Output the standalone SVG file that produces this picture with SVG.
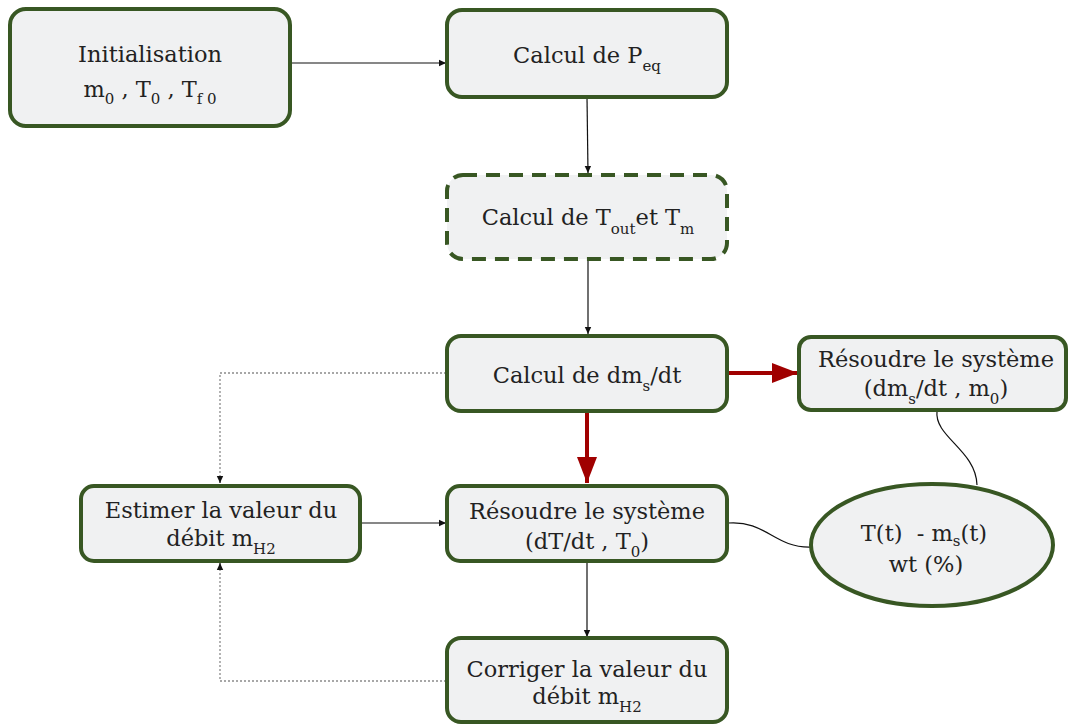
<svg xmlns="http://www.w3.org/2000/svg" width="1073" height="726" viewBox="0 0 1073 726">
  <style>
    .box { fill: #f0f1f2; stroke: #385723; stroke-width: 4; }
    .dash { stroke-dasharray: 14 9; }
    .t { font-family: "DejaVu Serif", "Liberation Serif", serif; font-size: 22.5px; fill: #222; text-anchor: middle; }
    .sub { font-size: 15px; }
    .link { fill: none; stroke: #111; stroke-width: 1.2; }
    .dot { fill: none; stroke: #8a8a8a; stroke-width: 1.3; stroke-dasharray: 2 2; }
    .red { fill: none; stroke: #a00000; stroke-width: 4; }
  </style>
  <defs>
    <marker id="arrow" markerUnits="userSpaceOnUse" markerWidth="8" markerHeight="8" refX="7" refY="4" orient="auto">
      <path d="M0,0.8 L7,4 L0,7.2 Z" fill="#111"/>
    </marker>
    <marker id="redArrow" markerUnits="userSpaceOnUse" markerWidth="28" markerHeight="22" refX="26" refY="11" orient="auto">
      <path d="M0,1 L26,11 L0,21 Z" fill="#a00000"/>
    </marker>
  </defs>
  <rect width="1073" height="726" fill="#ffffff"/>

  <!-- connectors -->
  <g id="connectors">
    <path class="link" d="M290,63 L446,63" marker-end="url(#arrow)"/>
    <path class="link" d="M587,97 L588,173" marker-end="url(#arrow)"/>
    <path class="link" d="M588,259 L588,334" marker-end="url(#arrow)"/>
    <path class="red" d="M587,411 L587,483" marker-end="url(#redArrow)"/>
    <path class="red" d="M728,373 L798,373" marker-end="url(#redArrow)"/>
    <path class="link" d="M360,523 L446,523" marker-end="url(#arrow)"/>
    <path class="link" d="M587,562 L587,637" marker-end="url(#arrow)"/>
    <path class="dot" d="M446,373 H220 V483"/>
    <path class="link" d="M220,476 L220,483" marker-end="url(#arrow)"/>
    <path class="dot" d="M446,681 H220 V563"/>
    <path class="link" d="M220,570 L220,563" marker-end="url(#arrow)"/>
    <path class="link" d="M728,523 C766,520 774,548 811,547"/>
    <path class="link" d="M937,411 C934,437 976,450 977,485"/>
  </g>

  <!-- Initialisation -->
  <g id="init">
    <rect class="box" x="10" y="9" width="280" height="117" rx="16"/>
    <text class="t" x="150" y="62">Initialisation</text>
    <text class="t" x="150" y="97">m<tspan class="sub" dy="7">0</tspan><tspan dy="-7"> , T</tspan><tspan class="sub" dy="7">0</tspan><tspan dy="-7"> , T</tspan><tspan class="sub" dy="7">f 0</tspan></text>
  </g>

  <!-- Calcul de Peq -->
  <g id="peq">
    <rect class="box" x="447" y="10" width="280" height="87" rx="15"/>
    <text class="t" x="587" y="63">Calcul de P<tspan class="sub" dy="8">eq</tspan></text>
  </g>

  <!-- Calcul de Tout et Tm -->
  <g id="tout">
    <rect class="box dash" x="447" y="175" width="280" height="84" rx="16"/>
    <text class="t" x="588" y="225">Calcul de T<tspan class="sub" dy="9">out</tspan><tspan dy="-9">et T</tspan><tspan class="sub" dy="9">m</tspan></text>
  </g>

  <!-- Calcul de dms/dt -->
  <g id="dmdt">
    <rect class="box" x="447" y="336" width="280" height="75" rx="14"/>
    <text class="t" x="587" y="383">Calcul de dm<tspan class="sub" dy="8">s</tspan><tspan dy="-8">/dt</tspan></text>
  </g>

  <!-- Résoudre le système (dms/dt, m0) -->
  <g id="solve-ms">
    <rect class="box" x="799" y="337" width="267" height="73" rx="12"/>
    <text class="t" x="936" y="367">Résoudre le système</text>
    <text class="t" x="936" y="396">(dm<tspan class="sub" dy="8">s</tspan><tspan dy="-8">/dt , m</tspan><tspan class="sub" dy="8">0</tspan><tspan dy="-8">)</tspan></text>
  </g>

  <!-- Estimer la valeur du débit -->
  <g id="estimate">
    <rect class="box" x="81" y="486" width="279" height="75" rx="13"/>
    <text class="t" x="221" y="518">Estimer la valeur du</text>
    <text class="t" x="221" y="546">débit m<tspan class="sub" dy="8">H2</tspan></text>
  </g>

  <!-- Résoudre le système (dT/dt, T0) -->
  <g id="solve-t">
    <rect class="box" x="447" y="486" width="280" height="75" rx="13"/>
    <text class="t" x="587" y="519">Résoudre le système</text>
    <text class="t" x="587" y="549">(dT/dt , T<tspan class="sub" dy="8">0</tspan><tspan dy="-8">)</tspan></text>
  </g>

  <!-- Résultats -->
  <g id="result">
    <ellipse class="box" cx="932" cy="545" rx="121" ry="61"/>
    <text class="t" x="924" y="541" xml:space="preserve">T(t)  - m<tspan class="sub" dy="5">s</tspan><tspan dy="-5">(t)</tspan></text>
    <text class="t" x="926" y="572">wt (%)</text>
  </g>

  <!-- Corriger la valeur du débit -->
  <g id="correct">
    <rect class="box" x="447" y="638" width="280" height="84" rx="14"/>
    <text class="t" x="587" y="677">Corriger la valeur du</text>
    <text class="t" x="587" y="704">débit m<tspan class="sub" dy="8">H2</tspan></text>
  </g>
</svg>
